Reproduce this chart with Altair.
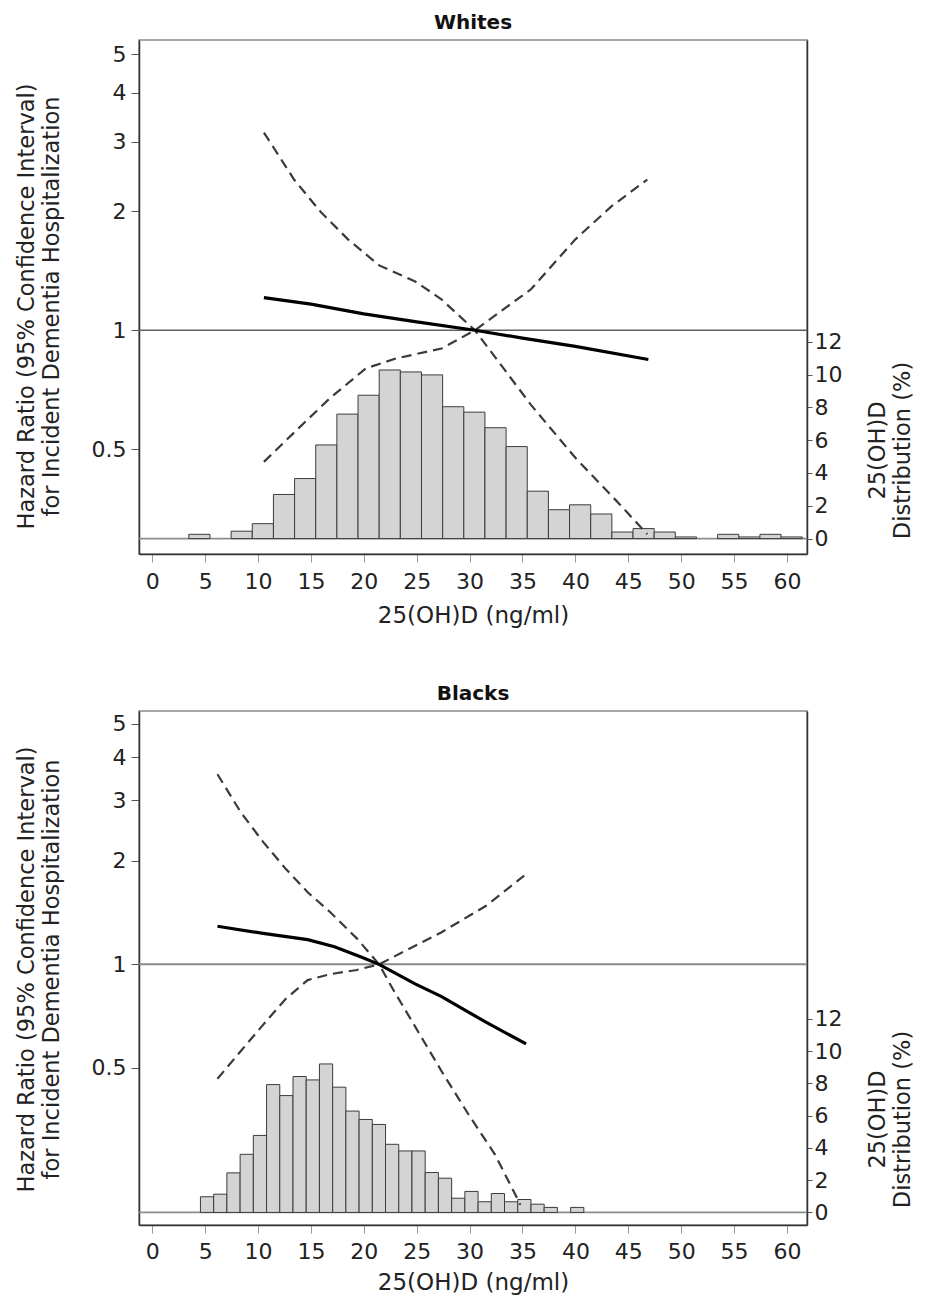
import altair as alt
import pandas as pd

FONT = "DejaVu Sans"

# ---------------- shared axis values ----------------
X_TICKS = [0, 5, 10, 15, 20, 25, 30, 35, 40, 45, 50, 55, 60]
X_DOMAIN = [-1.26, 61.9]
HR_TICKS = [0.5, 1, 2, 3, 4, 5]
PCT_TICKS = [0, 2, 4, 6, 8, 10, 12]

# ---------------- Whites ----------------
W_BIN_LO = [3.45, 7.45, 9.45, 11.45, 13.45, 15.45, 17.45, 19.45, 21.45, 23.45,
            25.45, 27.45, 29.45, 31.45, 33.45, 35.45, 37.45, 39.45, 41.45, 43.45,
            45.45, 47.45, 49.45, 53.45, 55.45, 57.45, 59.45]
W_BIN_WIDTH = 2.0
W_PCT = [0.26, 0.45, 0.91, 2.69, 3.66, 5.71, 7.59, 8.74, 10.28, 10.16,
         9.98, 8.04, 7.71, 6.76, 5.61, 2.89, 1.76, 2.06, 1.50, 0.40,
         0.61, 0.40, 0.10, 0.26, 0.10, 0.26, 0.10]

W_EST_X = [10.55, 15, 20, 25, 30.5, 35, 40, 46.9]
W_EST = [1.21, 1.165, 1.10, 1.05, 1.0, 0.955, 0.91, 0.843]
W_UP_X = [10.55, 13.4, 15.95, 18.5, 21.45, 24.85, 27.3, 30.5, 35.8, 40.0, 44.2, 46.8]
W_UP = [3.17, 2.41, 1.99, 1.70, 1.46, 1.33, 1.20, 1.0, 0.647, 0.475, 0.362, 0.304]
W_LO_X = [10.55, 13.84, 16.8, 20.2, 23.1, 27.35, 30.5, 35.8, 40.0, 43.4, 46.8]
W_LO = [0.464, 0.565, 0.673, 0.801, 0.849, 0.899, 1.0, 1.27, 1.70, 2.06, 2.41]

# ---------------- Blacks ----------------
B_BIN_LO = [4.55, 5.80, 7.05, 8.30, 9.55, 10.80, 12.05, 13.30, 14.55, 15.80,
            17.05, 18.30, 19.55, 20.80, 22.05, 23.30, 24.55, 25.80, 27.05, 28.30,
            29.55, 30.80, 32.05, 33.30, 34.55, 35.80, 37.05, 39.55]
B_BIN_WIDTH = 1.25
B_PCT = [0.97, 1.13, 2.45, 3.60, 4.77, 7.92, 7.24, 8.42, 8.21, 9.20,
         7.76, 6.28, 5.76, 5.45, 4.22, 3.81, 3.81, 2.47, 2.12, 0.88,
         1.30, 0.66, 1.17, 0.66, 0.80, 0.51, 0.31, 0.31]

B_EST_X = [6.16, 10.47, 14.69, 17.22, 19.74, 21.44, 24.8, 27.35, 31.5, 35.34]
B_EST = [1.29, 1.23, 1.18, 1.125, 1.05, 1.0, 0.879, 0.806, 0.68, 0.587]
B_UP_X = [6.16, 8.35, 10.47, 12.58, 14.69, 16.8, 19.33, 21.44, 22.7, 27.35, 29.9, 32.4, 34.53, 34.8]
B_UP = [3.57, 2.77, 2.27, 1.90, 1.62, 1.42, 1.19, 1.0, 0.852, 0.489, 0.366, 0.28, 0.208, 0.20]
B_LO_X = [6.16, 8.35, 10.47, 12.58, 14.69, 16.8, 19.33, 21.44, 27.35, 31.56, 35.16]
B_LO = [0.465, 0.559, 0.667, 0.792, 0.90, 0.936, 0.963, 1.0, 1.24, 1.48, 1.81]

PLOT_W = 668
PLOT_H = 514


def panel(title, bin_lo, bin_w, pct, est_x, est, up_x, up, lo_x, lo,
          hr_domain, pct_domain, right_title_y, left_title_y,
          ref_color, ref_width, x_label_pad, x_title_pad):
    hist = pd.DataFrame({"lo": bin_lo, "hi": [b + bin_w for b in bin_lo],
                         "pct": pct, "base": [0] * len(pct)})
    ci = pd.DataFrame({
        "x": up_x + lo_x,
        "hr": up + lo,
        "s": ["upper"] * len(up_x) + ["lower"] * len(lo_x),
    })
    estd = pd.DataFrame({"x": est_x, "hr": est})

    xs = alt.Scale(domain=X_DOMAIN, nice=False, zero=False)
    x_axis = alt.Axis(values=X_TICKS, title="25(OH)D (ng/ml)", grid=False,
                      labelFontSize=22, titleFontSize=23, tickSize=8,
                      labelPadding=x_label_pad, titlePadding=x_title_pad,
                      tickColor="#999999", labelFlush=False)

    pct_scale = alt.Scale(domain=pct_domain, nice=False, zero=False)
    pct_axis = alt.Axis(orient="right", values=PCT_TICKS, grid=False,
                        title=["25(OH)D", "Distribution (%)"],
                        labelFontSize=22, titleFontSize=22.5, tickSize=5,
                        labelPadding=2, titlePadding=0, titleAngle=270,
                        titleBaseline="top", titleAlign="center",
                        titleY=right_title_y, titleLineHeight=25)

    hr_scale = alt.Scale(type="log", domain=hr_domain, nice=False)
    hr_axis = alt.Axis(orient="left", values=HR_TICKS, format="~g", grid=False,
                       title=["Hazard Ratio (95% Confidence Interval)",
                              "for Incident Dementia Hospitalization"],
                       labelFontSize=22, titleFontSize=22.5, tickSize=8,
                       labelPadding=5, titlePadding=28, titleLineHeight=25,
                       titleY=left_title_y)

    zero = alt.Chart(pd.DataFrame({"pct": [0]})).mark_rule(
        color="#8c8c8c", strokeWidth=1.6).encode(
        y=alt.Y("pct:Q", scale=pct_scale, axis=pct_axis))
    bars = alt.Chart(hist).mark_bar(
        fill="#d4d4d4", stroke="#3c3c3c", strokeWidth=1).encode(
        x=alt.X("lo:Q", scale=xs, axis=x_axis),
        x2="hi:Q",
        y=alt.Y("pct:Q", scale=pct_scale, axis=pct_axis),
        y2="base:Q",
    )
    hist_group = alt.layer(zero, bars)

    ref = alt.Chart(pd.DataFrame({"hr": [1]})).mark_rule(
        color=ref_color, strokeWidth=ref_width).encode(
        y=alt.Y("hr:Q", scale=hr_scale, axis=hr_axis))
    dashed = alt.Chart(ci).mark_line(
        color="#3a3a3a", strokeWidth=2.2, strokeDash=[10, 6]).encode(
        x=alt.X("x:Q", scale=xs, axis=x_axis),
        y=alt.Y("hr:Q", scale=hr_scale, axis=hr_axis),
        detail="s:N",
    )
    solid = alt.Chart(estd).mark_line(color="#000000", strokeWidth=3.2).encode(
        x=alt.X("x:Q", scale=xs, axis=x_axis),
        y=alt.Y("hr:Q", scale=hr_scale, axis=hr_axis),
    )
    hr_group = alt.layer(ref, dashed, solid)

    return alt.layer(hist_group, hr_group).resolve_scale(y="independent").properties(
        width=PLOT_W, height=PLOT_H,
        title=alt.Title(title, fontSize=20, fontWeight="bold", font=FONT, offset=7),
    )


top = panel("Whites", W_BIN_LO, W_BIN_WIDTH, W_PCT, W_EST_X, W_EST,
            W_UP_X, W_UP, W_LO_X, W_LO,
            [0.271, 5.44], [-0.94, 30.4], 410, 266, "#606060", 1.5, 9, 12)
bottom = panel("Blacks", B_BIN_LO, B_BIN_WIDTH, B_PCT, B_EST_X, B_EST,
               B_UP_X, B_UP, B_LO_X, B_LO,
               [0.1747, 5.45], [-0.78, 31.07], 408, 258, "#8a8a8a", 2, 8, 9)

chart = alt.vconcat(top, bottom, spacing=55).properties(
    padding={"left": 6, "top": 4, "right": 0, "bottom": 0}
).configure_view(
    stroke="#8a8a8a", strokeWidth=1.5
).configure_axis(
    domainColor="#333333", domainWidth=1.5, tickColor="#555555",
    labelColor="#222222", titleColor="#222222",
    labelFont=FONT, titleFont=FONT, titleFontWeight="normal",
).configure_title(
    font=FONT, anchor="middle", color="#111111"
)

chart.save("out.html", embed_options={"renderer": "svg", "actions": False})
